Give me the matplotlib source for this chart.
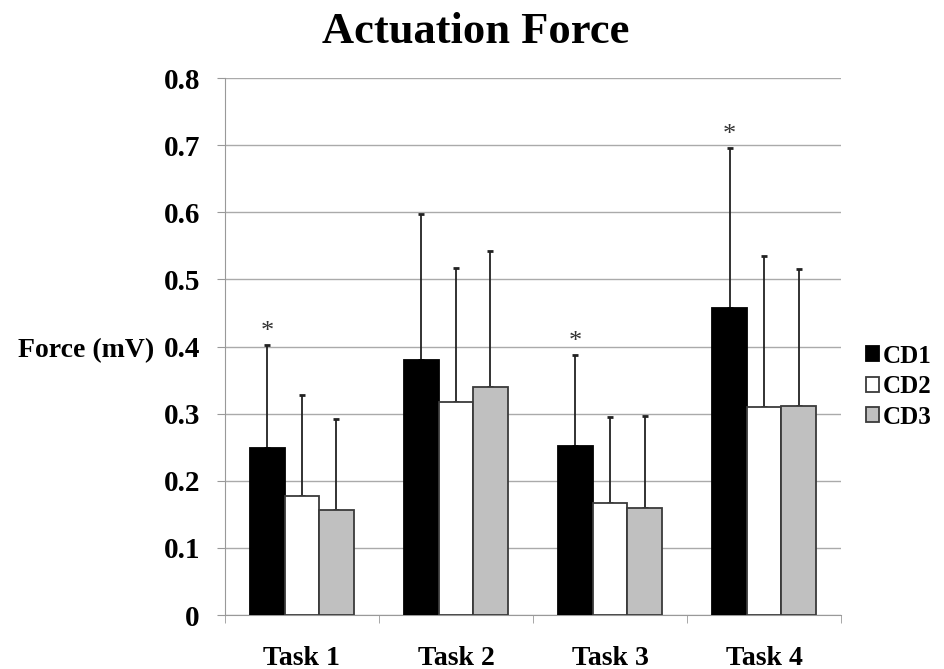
import numpy as np
import matplotlib.pyplot as plt

# chart values
tasks = ['Task 1', 'Task 2', 'Task 3', 'Task 4']
series = ['CD1', 'CD2', 'CD3']
cd1 = [0.249, 0.380, 0.252, 0.458]
cd2 = [0.178, 0.318, 0.167, 0.310]
cd3 = [0.156, 0.340, 0.160, 0.312]
# top of each error bar
cd1_top = [0.402, 0.597, 0.388, 0.696]
cd2_top = [0.328, 0.517, 0.295, 0.535]
cd3_top = [0.292, 0.543, 0.296, 0.516]
starred = [0, 2, 3]  # tasks with a * over CD1

plt.rcParams['font.family'] = ['Liberation Serif', 'DejaVu Serif']

fig = plt.figure(figsize=(9.45, 6.69), dpi=100)
ax = fig.add_axes([0.238, 0.0807, 0.652, 0.8027])

x = np.arange(len(tasks))
w = 0.224
fills = ['#000000', '#ffffff', '#c0c0c0']
edges = ['#000000', '#3a3a3a', '#3a3a3a']
vals = [cd1, cd2, cd3]
tops = [cd1_top, cd2_top, cd3_top]

for i in range(3):
    pos = x + (i - 1) * w
    v = np.array(vals[i])
    err = np.array(tops[i]) - v
    ax.bar(pos, v, w, color=fills[i], edgecolor=edges[i], linewidth=1.3,
           label=series[i], zorder=3)
    ax.errorbar(pos, v, yerr=[np.zeros_like(err), err], fmt='none',
                ecolor='#222222', elinewidth=1.3, capsize=2.5, capthick=2, zorder=2)

for t in starred:
    ax.text(x[t] - w, cd1_top[t] + 0.003, '*', ha='center', va='bottom',
            fontsize=19, color='#333333')

ax.set_xlim(-0.5, 3.5)
ax.set_ylim(0, 0.8)
ax.set_yticks(np.arange(0, 0.81, 0.1))
ax.set_yticklabels(['0'] + ['%.1f' % v for v in np.arange(0.1, 0.81, 0.1)],
                   fontsize=21, fontweight='bold')
ax.set_xticks(x)
ax.set_xticklabels(tasks, fontsize=20, fontweight='bold')
ax.set_xticks(np.arange(-0.5, 3.6, 1), minor=True)
ax.tick_params(axis='x', which='major', length=0, pad=22)
ax.tick_params(axis='x', which='minor', length=6, color='#999999')
ax.tick_params(axis='y', length=6, color='#999999', pad=12)

ax.grid(axis='y', color='#aaaaaa', linewidth=1, zorder=0)
ax.set_axisbelow(True)
for s in ['top', 'right']:
    ax.spines[s].set_visible(False)
ax.spines['left'].set_color('#999999')
ax.spines['bottom'].set_color('#999999')

ax.set_ylabel('Force (mV)', rotation=0, fontsize=20, fontweight='bold',
              ha='right', va='center')
ax.yaxis.set_label_coords(-0.115, 0.493)

fig.text(0.503, 1 - 43 / 669, 'Actuation Force', ha='center', va='baseline',
         fontsize=32, fontweight='bold')

leg = ax.legend(loc='center left', bbox_to_anchor=(1.04, 0.425), frameon=False,
                prop={'size': 18, 'weight': 'bold'}, handlelength=0.55,
                handleheight=0.55, handletextpad=0.15, labelspacing=0.3,
                borderaxespad=0, borderpad=0)

fig.savefig('out.png', dpi=100)
